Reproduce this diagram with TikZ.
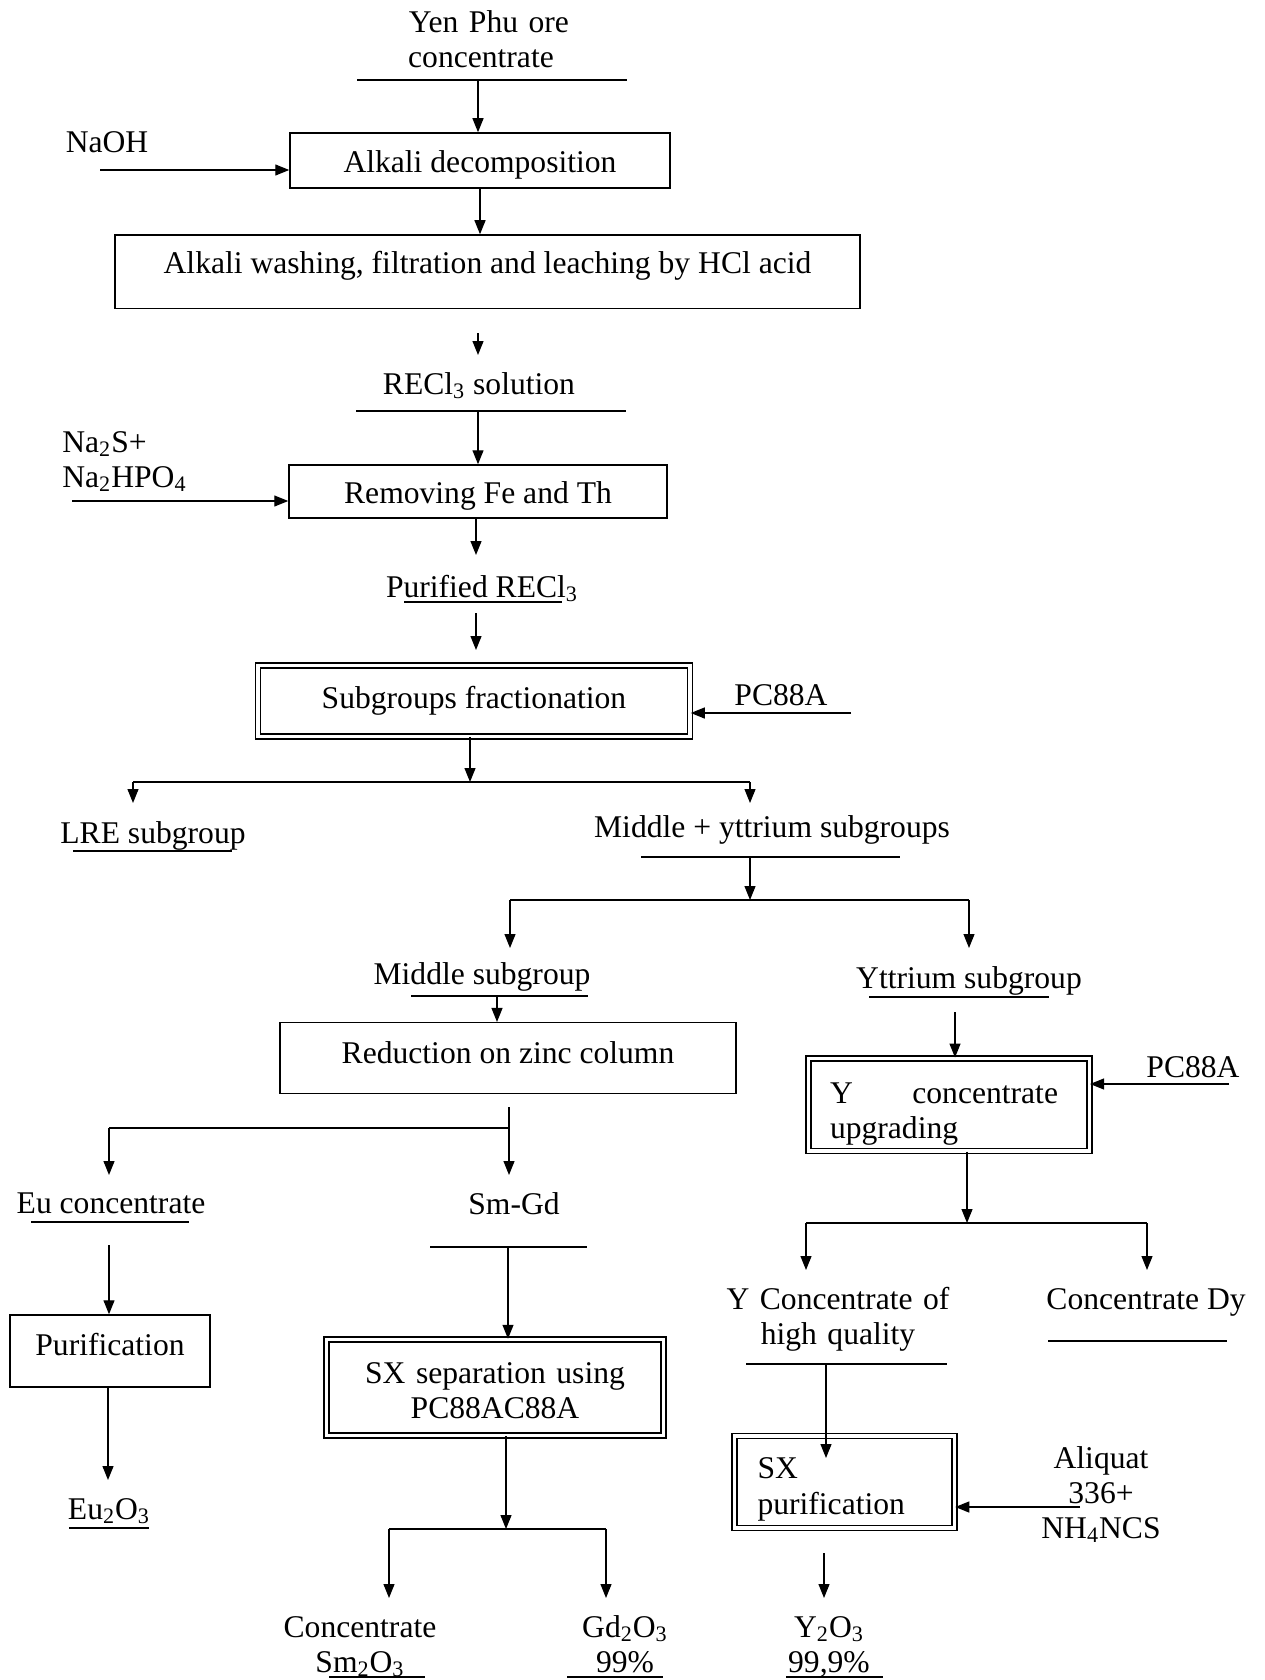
\documentclass[tikz,border=0pt]{standalone}
\usepackage{fontspec}
\setmainfont{Liberation Serif}
\usetikzlibrary{arrows.meta}

\begin{document}
\begin{tikzpicture}[x=0.5pt, y=-0.5pt,
    font=\fontsize{15.8}{17.5}\selectfont,
    box/.style={draw=black, line width=0.75pt, inner sep=0pt, text height=12pt, text depth=0pt},
    dbox/.style={box, double, double distance=1.8pt},
    lbl/.style={inner sep=0pt, anchor=base},
    mlbl/.style={inner sep=0pt, anchor=base, align=center, text width=#1},
    mlbl/.default=120pt,
    uline/.style={line width=1.1pt},
    flow/.style={line width=0.6pt, -{Triangle[length=7pt, width=5.5pt]}},
    bar/.style={line width=0.6pt}]
    \useasboundingbox (0,0) rectangle (1264,1680);

    \begin{scope}
        \node[mlbl=150pt] (ore) at (481,33) {\hspace*{8pt}Yen Phu ore\\concentrate\hspace*{7pt}};
        \draw[uline] (357,80) -- (627,80);
        \node[box, minimum width=190pt, minimum height=27.5pt] (decomp) at (480,160.5) {Alkali decomposition};
        \node[lbl] (naoh) at (107,153) {NaOH};
        \node[box, minimum width=372.5pt, minimum height=36.7pt, text depth=10pt] (wash) at (487.5,271.7) {Alkali washing, filtration and leaching by HCl acid};
        \node[lbl] (recl) at (479,394) {RECl\textsubscript{3} solution};
        \draw[uline] (356,411) -- (626,411);
        \node[box, minimum width=189pt, minimum height=26.5pt] (remove) at (478,491.5) {Removing Fe and Th};
        \node[mlbl=100pt, align=left, anchor=base west] (nas) at (62,452) {Na\textsubscript{2}S+\\Na\textsubscript{2}HPO\textsubscript{4}};
        \node[lbl] (pure) at (482,597) {Purified RECl\textsubscript{3}};
        \draw[uline] (404,602) -- (562,602);
        \node[dbox, minimum width=216pt, minimum height=35.5pt, text depth=4.7pt] (frac) at (474,701) {Subgroups fractionation};
        \node[lbl] (pca) at (781,705) {PC88A};
    \end{scope}

    \coordinate (ore-u) at (478,80);
    \coordinate (naoh-s) at (100,170);
    \coordinate (wash-o) at (478,333);
    \coordinate (recl-i) at (478,355);
    \coordinate (recl-u) at (478,411);
    \coordinate (nas-s) at (72,501);
    \coordinate (pure-i) at (476,555);
    \coordinate (pure-o) at (476,613);
    \coordinate (frac-i) at (476,650);
    \coordinate (pca-s) at (851,713);
    \draw[flow] (ore-u) -- (ore-u |- decomp.north);
    \draw[flow] (naoh-s) -- (naoh-s -| decomp.west);
    \draw[flow] (decomp.south) -- (decomp.south |- wash.north);
    \draw[flow] (wash-o) -- (recl-i);
    \draw[flow] (recl-u) -- (recl-u |- remove.north);
    \draw[flow] (nas-s) -- (nas-s -| remove.west);
    \draw[flow] (remove.south -| pure-i) -- (pure-i);
    \draw[flow] (pure-o) -- (frac-i);
    \draw[flow] (pca-s) -- (pca-s -| frac.east);

    \coordinate (j1) at (470,782);
    \coordinate (j1l) at (133,782);
    \coordinate (j1r) at (750,782);
    \draw[flow] (frac.south -| j1) -- (j1);
    \draw[bar] (j1l) -- (j1r);
    \draw[flow] (j1l) -- (133,803);
    \draw[flow] (j1r) -- (750,803);

    \node[lbl] (lre) at (153,843) {LRE subgroup};
    \draw[uline] (73,851) -- (232,851);
    \node[lbl] (myttr) at (772,837) {Middle + yttrium subgroups};
    \draw[uline] (641,857) -- (900,857);

    \coordinate (my-u) at (750,857);
    \coordinate (j2) at (750,900);
    \coordinate (j2l) at (510,900);
    \coordinate (j2r) at (969,900);
    \draw[flow] (my-u) -- (j2);
    \draw[bar] (j2l) -- (j2r);
    \draw[flow] (j2l) -- (510,948);
    \draw[flow] (j2r) -- (969,948);

    \begin{scope}
        \node[lbl] (mid) at (482,984) {Middle subgroup};
        \draw[uline] (411,996) -- (588,996);
        \node[box, minimum width=228pt, minimum height=35.3pt, text depth=6.7pt] (reduce) at (508,1058) {Reduction on zinc column};
        \node[lbl] (eu) at (111,1213) {Eu concentrate};
        \draw[uline] (31,1222) -- (189,1222);
        \node[lbl] (smgd) at (514,1214) {Sm-Gd};
        \draw[uline] (430,1247) -- (587,1247);
        \node[box, minimum width=100pt, minimum height=36pt, text depth=8pt] (purif) at (110,1351) {Purification};
        \node[lbl] (euo) at (109,1519) {Eu\textsubscript{2}O\textsubscript{3}};
        \draw[uline] (69,1528) -- (149,1528);
        \node[dbox, minimum width=168.5pt, minimum height=48pt, text width=150pt, align=center, text depth=16.2pt] (sxsep) at (495,1387.5) {SX separation using\\PC88AC88A};
        \node[mlbl] (smo) at (360,1637) {Concentrate\\Sm\textsubscript{2}O\textsubscript{3}};
        \draw[uline] (329,1677) -- (425,1677);
        \node[mlbl] (gdo) at (625,1637) {Gd\textsubscript{2}O\textsubscript{3}\\99\%};
        \draw[uline] (567,1677) -- (663,1677);
    \end{scope}

    \coordinate (mid-u) at (497,996);
    \coordinate (red-o) at (509,1107);
    \coordinate (j3) at (509,1128);
    \coordinate (j3l) at (109,1128);
    \draw[flow] (mid-u) -- (mid-u |- reduce.north);
    \draw[bar] (red-o) -- (j3) -- (j3l);
    \draw[flow] (j3l) -- (109,1175);
    \draw[flow] (j3) -- (509,1175);
    \coordinate (eu-o) at (109,1245);
    \coordinate (euo-i) at (108,1480);
    \draw[flow] (eu-o) -- (eu-o |- purif.north);
    \draw[flow] (purif.south -| euo-i) -- (euo-i);
    \coordinate (sg-u) at (508,1247);
    \draw[flow] (sg-u) -- (sg-u |- sxsep.north);
    \coordinate (j5) at (506,1529);
    \coordinate (j5l) at (389,1529);
    \coordinate (j5r) at (606,1529);
    \draw[flow] (sxsep.south -| j5) -- (j5);
    \draw[bar] (j5l) -- (j5r);
    \draw[flow] (j5l) -- (389,1598);
    \draw[flow] (j5r) -- (606,1598);

    \begin{scope}
        \node[lbl] (ysub) at (969,988) {Yttrium subgroup};
        \draw[uline] (869,997) -- (1049,997);
        \node[dbox, minimum width=140.5pt, minimum height=46.3pt, text width=118.8pt, align=left, text depth=13.3pt] (ybox) at (948.8,1104.6) {\makebox[114pt][l]{Y\hfill concentrate}\\upgrading};
        \node[lbl] (pcb) at (1193,1077) {PC88A};
        \node[mlbl] (yhq) at (838,1309) {Y Concentrate of\\high quality};
        \draw[uline] (746,1364) -- (947,1364);
        \node[lbl] (dy) at (1146,1309) {Concentrate Dy};
        \draw[uline] (1048,1341) -- (1227,1341);
        \node[dbox, minimum width=110pt, minimum height=46pt, text width=87pt, align=left, text depth=15.7pt, font=\fontsize{15.8}{18.3}\selectfont] (sxpur) at (844.5,1482) {SX\\purification};
        \node[mlbl] (aliq) at (1101,1468) {Aliquat\\336+\\NH\textsubscript{4}NCS};
        \node[mlbl] (yo) at (829,1637) {Y\textsubscript{2}O\textsubscript{3}\\99,9\%};
        \draw[uline] (786,1677) -- (883,1677);
    \end{scope}

    \coordinate (ys-o) at (955,1012);
    \coordinate (pcb-s) at (1229,1084);
    \draw[flow] (ys-o) -- (ys-o |- ybox.north);
    \draw[flow] (pcb-s) -- (pcb-s -| ybox.east);
    \coordinate (j4) at (967,1223);
    \coordinate (j4l) at (806,1223);
    \coordinate (j4r) at (1147,1223);
    \draw[flow] (ybox.south -| j4) -- (j4);
    \draw[bar] (j4l) -- (j4r);
    \draw[flow] (j4l) -- (806,1270);
    \draw[flow] (j4r) -- (1147,1270);
    \coordinate (yhq-u) at (826,1364);
    \coordinate (pur-i) at (826,1458);
    \coordinate (aliq-s) at (1080,1507);
    \coordinate (pur-o) at (824,1553);
    \coordinate (yo-i) at (824,1598);
    \draw[flow] (yhq-u) -- (pur-i);
    \draw[flow] (aliq-s) -- (aliq-s -| sxpur.east);
    \draw[flow] (pur-o) -- (yo-i);
\end{tikzpicture}
\end{document}
